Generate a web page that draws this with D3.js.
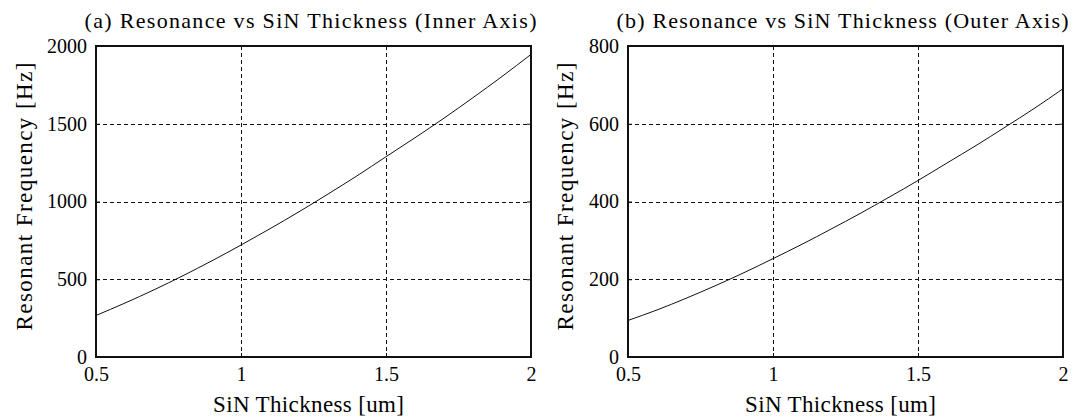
<!DOCTYPE html>
<html>
<head>
<meta charset="utf-8">
<script src="https://cdn.jsdelivr.net/npm/d3@7"></script>
<style>
  html, body { margin: 0; padding: 0; background: #fff; }
  svg { display: block; }
  text { font-family: "Liberation Serif", "Times New Roman", serif; fill: #000; }
</style>
</head>
<body>
<svg id="chart" width="1077" height="419"></svg>
<script>
// SiN thickness samples [um]
const thickness = [0.5, 0.6, 0.7, 0.8, 0.9, 1.0, 1.1, 1.2, 1.3, 1.4, 1.5, 1.6, 1.7, 1.8, 1.9, 2.0];
// Resonant frequency of the inner axis [Hz]
const freqInner = [267, 347, 432, 523, 619, 720, 825, 934, 1048, 1165, 1288, 1410, 1536, 1668, 1804, 1946];
// Resonant frequency of the outer axis [Hz]
const freqOuter = [94, 121, 151, 183, 217, 253, 290, 329, 369, 411, 454, 499, 544, 591, 639, 690];

const xTicks = [0.5, 1, 1.5, 2];
const yTicksInner = [0, 500, 1000, 1500, 2000];
const yTicksOuter = [0, 200, 400, 600, 800];

const panels = [
  { title: "(a) Resonance vs SiN Thickness (Inner Axis)", values: freqInner, yTicks: yTicksInner, left: 96, ylabelX: 32 },
  { title: "(b) Resonance vs SiN Thickness (Outer Axis)", values: freqOuter, yTicks: yTicksOuter, left: 628, ylabelX: 573 }
];

const svg = d3.select("#chart");
const plotW = 435, plotTop = 46, plotBottom = 357;
const tickFont = 20, titleFont = 22, labelFont = 23;

panels.forEach(p => {
  const x = d3.scaleLinear().domain([0.5, 2]).range([p.left, p.left + plotW]);
  const y = d3.scaleLinear().domain([p.yTicks[0], p.yTicks[p.yTicks.length - 1]]).range([plotBottom, plotTop]);
  const g = svg.append("g");

  // dashed grid
  g.selectAll("line.vg").data(xTicks.slice(1, -1)).join("line")
    .attr("x1", d => Math.round(x(d)) + 0.5).attr("x2", d => Math.round(x(d)) + 0.5)
    .attr("y1", plotTop).attr("y2", plotBottom)
    .attr("stroke", "#111").attr("stroke-width", 1).attr("stroke-dasharray", "4,3");
  g.selectAll("line.hg").data(p.yTicks.slice(1, -1)).join("line")
    .attr("y1", d => Math.round(y(d)) + 0.5).attr("y2", d => Math.round(y(d)) + 0.5)
    .attr("x1", p.left).attr("x2", p.left + plotW)
    .attr("stroke", "#111").attr("stroke-width", 1).attr("stroke-dasharray", "4,3");

  // curve
  const line = d3.line().x((d, i) => x(thickness[i])).y(d => y(d)).curve(d3.curveMonotoneX);
  g.append("path").datum(p.values).attr("d", line)
    .attr("fill", "none").attr("stroke", "#111").attr("stroke-width", 1);

  // axes: bottom and left with labels, top and right without, all ticks pointing inward
  const axB = d3.axisBottom(x).tickValues(xTicks).tickSize(-4).tickPadding(10).tickFormat(d3.format("~g"));
  const axT = d3.axisTop(x).tickValues(xTicks).tickSize(-4).tickFormat("");
  const axL = d3.axisLeft(y).tickValues(p.yTicks).tickSize(-4).tickPadding(9).tickFormat(d3.format("d"));
  const axR = d3.axisRight(y).tickValues(p.yTicks).tickSize(-4).tickFormat("");

  const styleAxis = sel => {
    sel.select(".domain").remove();
    sel.selectAll(".tick line").attr("stroke", "#111");
    sel.selectAll("text").style("font-family", "'Liberation Serif', serif").style("font-size", tickFont + "px").attr("fill", "#000");
  };
  g.append("g").attr("transform", `translate(0,${plotBottom})`).call(axB).call(styleAxis);
  g.append("g").attr("transform", `translate(0,${plotTop})`).call(axT).call(styleAxis);
  g.append("g").attr("transform", `translate(${p.left},0)`).call(axL).call(styleAxis);
  g.append("g").attr("transform", `translate(${p.left + plotW},0)`).call(axR).call(styleAxis);
  g.append("rect").attr("x", p.left).attr("y", plotTop).attr("width", plotW).attr("height", plotBottom - plotTop)
    .attr("fill", "none").attr("stroke", "#111").attr("stroke-width", 2);

  // title and axis labels
  g.append("text").attr("x", p.left + plotW / 2 - 3).attr("y", 28).attr("text-anchor", "middle")
    .attr("textLength", 452).attr("lengthAdjust", "spacing")
    .style("font-size", titleFont + "px").text(p.title);
  g.append("text").attr("x", p.left + plotW / 2 - 5).attr("y", 412).attr("text-anchor", "middle")
    .attr("textLength", 191).attr("lengthAdjust", "spacing")
    .style("font-size", labelFont + "px").text("SiN Thickness [um]");
  g.append("text").attr("transform", `translate(${p.ylabelX},${(plotTop + plotBottom) / 2 - 5}) rotate(-90)`)
    .attr("text-anchor", "middle").attr("textLength", 268).attr("lengthAdjust", "spacing")
    .style("font-size", labelFont + "px").text("Resonant Frequency [Hz]");
});
</script>
</body>
</html>
